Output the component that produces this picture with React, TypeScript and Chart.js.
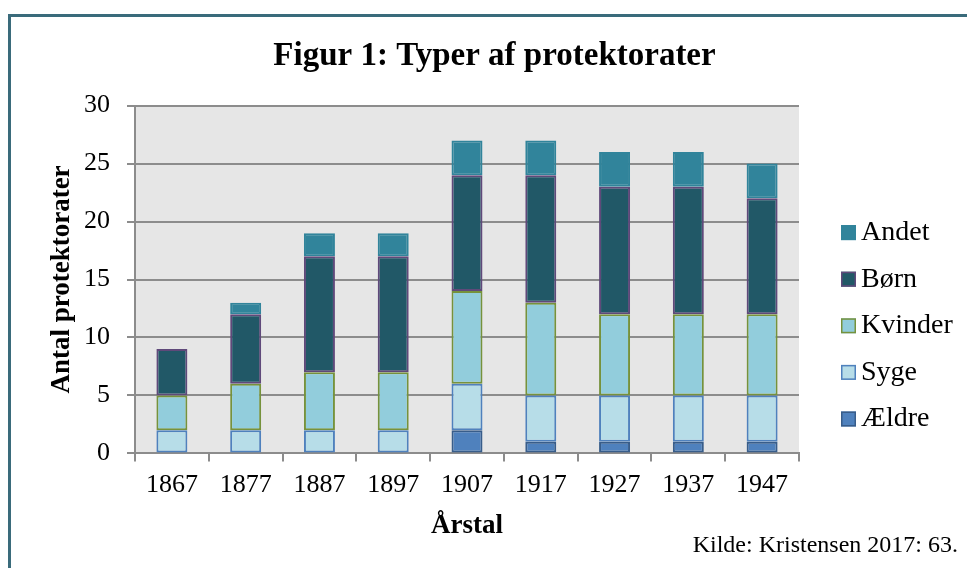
import React, { useEffect, useRef } from "react";
import { Chart, registerables } from "chart.js";

Chart.register(...registerables);

const categories = ["1867", "1877", "1887", "1897", "1907", "1917", "1927", "1937", "1947"];
const aeldre = [0, 0, 0, 0, 2, 1, 1, 1, 1];
const syge = [2, 2, 2, 2, 4, 4, 4, 4, 4];
const kvinder = [3, 4, 5, 5, 8, 8, 7, 7, 7];
const boern = [4, 6, 10, 10, 10, 11, 11, 11, 10];
const andet = [0, 1, 2, 2, 3, 3, 3, 3, 3];
const seriesNames = ["Ældre", "Syge", "Kvinder", "Børn", "Andet"];
const yTicks = [0, 5, 10, 15, 20, 25, 30];

const titleText = "Figur 1: Typer af protektorater";
const yTitle = "Antal protektorater";
const xTitle = "Årstal";
const sourceText = "Kilde: Kristensen 2017: 63.";

const FONT = "'Liberation Serif', 'Times New Roman', serif";

const fills = ["#4F81BD", "#B7DDE8", "#92CDDC", "#215867", "#31849B"];
const borders = ["#385D8A", "#4F81BD", "#76923C", "#5F497A", "#31849B"];

export default function App() {
  const ref = useRef<HTMLCanvasElement | null>(null);
  useEffect(() => {
    if (!ref.current) return;
    const values = [aeldre, syge, kvinder, boern, andet];
    const bgPlugin = {
      id: "bg",
      beforeDraw(chart: any) {
        const { ctx, chartArea } = chart;
        ctx.save();
        ctx.fillStyle = "#E6E6E6";
        ctx.fillRect(chartArea.left, chartArea.top, chartArea.right - chartArea.left, chartArea.bottom - chartArea.top);
        ctx.restore();
      },
    };
    const legendPlugin = {
      id: "customLegend",
      afterDraw(chart: any) {
        const { ctx, chartArea } = chart;
        const ds = chart.data.datasets;
        const x0 = chartArea.right + 42;
        const y0 = chartArea.top + 127;
        const step = 46.6;
        ctx.save();
        ctx.font = `28px ${FONT}`;
        ctx.textBaseline = "middle";
        ctx.textAlign = "left";
        for (let i = 0; i < ds.length; i++) {
          const d = ds[ds.length - 1 - i];
          const cy = y0 + i * step;
          ctx.fillStyle = d.backgroundColor;
          ctx.fillRect(x0, cy - 7.5, 15, 15);
          ctx.strokeStyle = d.borderColor;
          ctx.lineWidth = 1.5;
          ctx.strokeRect(x0 + 0.75, cy - 6.75, 13.5, 13.5);
          ctx.fillStyle = "#000";
          ctx.fillText(d.label, x0 + 20, cy);
        }
        ctx.font = `24px ${FONT}`;
        ctx.textAlign = "right";
        ctx.textBaseline = "alphabetic";
        ctx.fillText(sourceText, 958, 552);
        ctx.restore();
      },
    };
    const chart = new Chart(ref.current, {
      type: "bar",
      data: {
        labels: categories,
        datasets: seriesNames.map((name, i) => ({
          label: name,
          data: values[i],
          backgroundColor: fills[i],
          borderColor: borders[i],
          borderWidth: (c: any) => (c.raw === 0 ? 0 : 2),
          borderSkipped: false,
          barPercentage: 0.42,
          categoryPercentage: 1,
        })),
      },
      options: {
        responsive: false,
        animation: false,
        layout: { padding: { left: 22, right: 0, top: 0, bottom: 26 } },
        plugins: {
          legend: { display: false },
          tooltip: { enabled: false },
          title: {
            display: true,
            text: titleText,
            color: "#000",
            font: { family: FONT, size: 33, weight: "bold" },
            padding: { top: 37, bottom: 29 },
          },
        },
        scales: {
          x: {
            stacked: true,
            offset: true,
            grid: {
              display: true,
              drawOnChartArea: false,
              drawTicks: true,
              tickLength: 8,
              offset: true,
              color: "#8C8C8C",
              lineWidth: 2,
            },
            border: { display: true, color: "#8C8C8C", width: 2 },
            ticks: { color: "#000", font: { family: FONT, size: 26 }, padding: 8, maxRotation: 0 },
            title: {
              display: true,
              text: xTitle,
              color: "#000",
              font: { family: FONT, size: 27, weight: "bold" },
              padding: { top: 1, bottom: 0 },
            },
          },
          y: {
            stacked: true,
            min: 0,
            max: 30,
            afterBuildTicks: (s: any) => {
              s.ticks = yTicks.map((v) => ({ value: v }));
            },
            afterFit: (s: any) => {
              s.width = 113;
            },
            grid: { color: "#8C8C8C", lineWidth: 2, tickLength: 8, drawTicks: true },
            border: { display: true, color: "#8C8C8C", width: 2 },
            ticks: { color: "#000", font: { family: FONT, size: 26 }, padding: 17 },
            title: {
              display: true,
              text: yTitle,
              color: "#000",
              font: { family: FONT, size: 27, weight: "bold" },
              padding: { top: 24, bottom: 0 },
            },
          },
          yr: {
            position: "right",
            display: true,
            min: 0,
            max: 1,
            grid: { display: false },
            border: { display: false },
            ticks: { display: false },
            afterFit: (s: any) => {
              s.width = 168;
            },
          },
        },
      },
      plugins: [bgPlugin, legendPlugin],
    } as any);
    return () => chart.destroy();
  }, []);
  return (
    <div style={{ position: "fixed", left: 0, top: 0, width: 967, height: 568, background: "#fff" }}>
      <div
        style={{
          position: "absolute",
          left: 8,
          top: 14,
          width: 967,
          height: 568,
          borderLeft: "3px solid #3A6B7B",
          borderTop: "3px solid #3A6B7B",
          boxSizing: "border-box",
        }}
      />
      <canvas ref={ref} width={967} height={568} style={{ position: "absolute", left: 0, top: 0 }} />
    </div>
  );
}
